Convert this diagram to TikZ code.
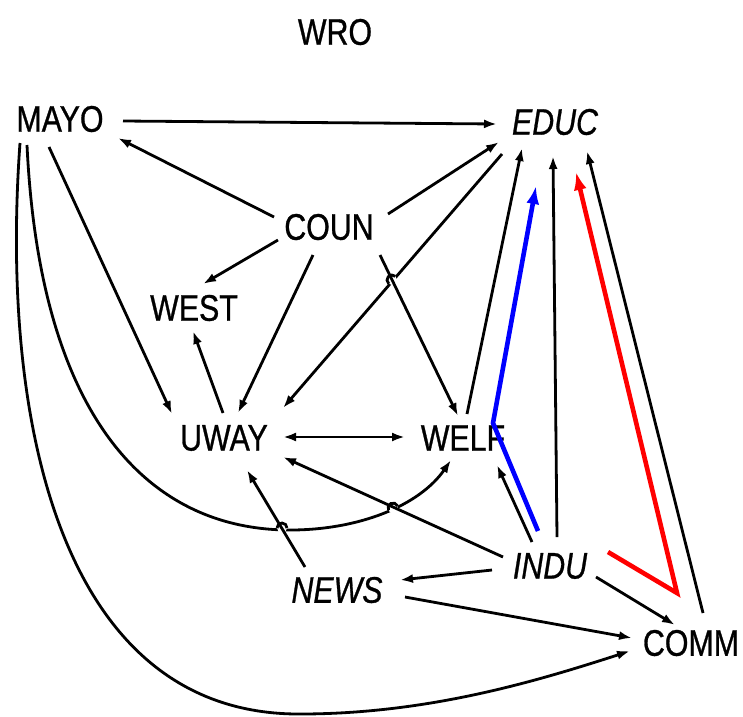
\documentclass[tikz,border=0pt]{standalone}
\usepackage{fontspec}
\setmainfont{Liberation Sans}[FakeBold=0.9]
\usetikzlibrary{arrows.meta}
\def\hop(#1)(#2:#3){\fill[white] (#1) circle (5); \draw[link] (#1) ++(#2:5) arc (#2:#3:5);}

\begin{document}
\begin{tikzpicture}[x=1pt, y=1pt,
		link/.style={line width=2.8pt},
		arr/.style={link, -{Latex[length=13pt,width=9pt]}},
		pathln/.style={line width=4.6pt, -{Latex[length=18pt,width=13pt]}},
		lbl/.style={font=\fontsize{37}{37}\selectfont, inner sep=0pt, xscale=0.82, transform shape}]
			%%%%% START %%%%%
			
			\useasboundingbox (0, 0) rectangle (743, -716);
			
			\node[lbl] (wro) at (335, -32) {WRO};
			\node[lbl] (mayo) at (60, -119) {MAYO};
			\node[lbl] (educ) at (555, -122) {\itshape EDUC};
			\node[lbl] (coun) at (329, -227) {COUN};
			\node[lbl] (west) at (194, -308) {WEST};
			\node[lbl] (uway) at (224, -438) {UWAY};
			\node[lbl] (welf) at (463, -438) {WELF};
			\node[lbl] (indu) at (550, -566) {\itshape INDU};
			\node[lbl] (news) at (337, -590) {\itshape NEWS};
			\node[lbl] (comm) at (691, -643) {COMM};
			
			% the two long curves from MAYO
			\draw[arr] ([shift={(-33,-26)}]mayo.center) .. controls (40, -420) and (150, -530) .. (290, -530)
				.. controls (360, -530) and (420, -505) .. ([shift={(-12,-22)}]welf.center);
			\draw[arr] ([shift={(-40,-24)}]mayo.center) .. controls (0, -420) and (60, -715) .. (300, -714)
				.. controls (430, -714) and (540, -680) .. ([shift={(-61,-8)}]comm.center);
			
			\draw[arr] ([shift={(63,-2)}]mayo.center) -- ([shift={(-58,-2)}]educ.center);
			\draw[arr] ([shift={(-11,-28)}]mayo.center) -- ([shift={(-52,24)}]uway.center);
			
			\draw[arr] ([shift={(-55,10)}]coun.center) -- ([shift={(58,-19)}]mayo.center);
			\draw[arr] ([shift={(59,13)}]coun.center) -- ([shift={(-56,-20)}]educ.center);
			\draw[arr] ([shift={(-51,-13)}]coun.center) -- ([shift={(9,24)}]west.center);
			\draw[arr] ([shift={(-16,-28)}]coun.center) -- ([shift={(14,25)}]uway.center);
			
			\draw[arr] ([shift={(-53,-32)}]educ.center) -- ([shift={(59,30)}]uway.center);
			\hop(392, -280)(49:229);
			\draw[arr] ([shift={(51,-28)}]coun.center) -- ([shift={(-5,22)}]welf.center);
			
			\draw[arr] ([shift={(-1,25)}]uway.center) -- ([shift={(-1,-23)}]west.center);
			\draw[link, {Latex[length=13pt,width=9pt]}-{Latex[length=13pt,width=9pt]}] ([shift={(59,1)}]uway.center) -- ([shift={(-58,1)}]welf.center);
			\draw[arr] ([shift={(4,24)}]welf.center) -- ([shift={(-33,-26)}]educ.center);
			
			\hop(282, -528)(180:0);
			\hop(393, -508)(206:26);
			\draw[arr] ([shift={(-32,23)}]news.center) -- ([shift={(23,-32)}]uway.center);
			\draw[arr] ([shift={(-47,9)}]indu.center) -- ([shift={(59,-19)}]uway.center);
			
			\draw[arr] ([shift={(-58,-4)}]indu.center) -- ([shift={(63,10)}]news.center);
			\draw[arr] ([shift={(68,-7)}]news.center) -- ([shift={(-59,5)}]comm.center);
			\draw[arr] ([shift={(-18,24)}]indu.center) -- ([shift={(34,-27)}]welf.center);
			\draw[arr] ([shift={(7,29)}]indu.center) -- ([shift={(-2,-34)}]educ.center);
			\draw[arr] ([shift={(46,-11)}]indu.center) -- ([shift={(-16,18)}]comm.center);
			\draw[arr] ([shift={(12,30)}]comm.center) -- ([shift={(32,-29)}]educ.center);
			
			% highlighted paths
			\draw[pathln, blue] ([shift={(-12,35)}]indu.center) -- ([shift={(30,15)}]welf.center) -- ([shift={(-19,-64)}]educ.center);
			\draw[pathln, red] ([shift={(58,14)}]indu.center) -- ([shift={(-14,50)}]comm.center) -- ([shift={(21,-50)}]educ.center);
			
			%%%%% END %%%%%
\end{tikzpicture}
\end{document}
